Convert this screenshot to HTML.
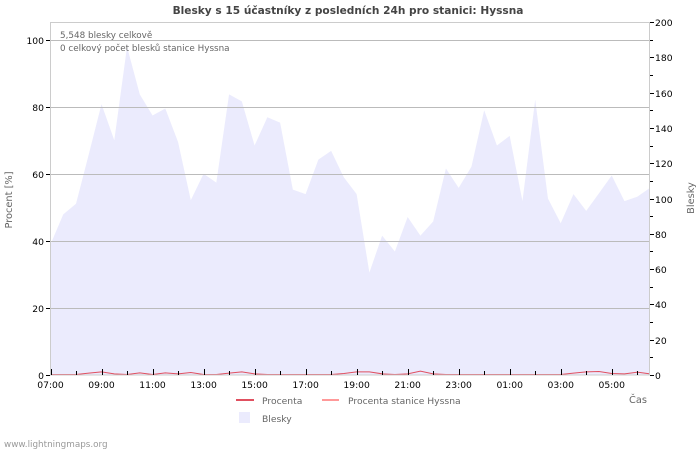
<!DOCTYPE html>
<html><head><meta charset="utf-8"><style>
body{margin:0;background:#fff;}
svg{display:block;font-family:"DejaVu Sans","Liberation Sans",sans-serif;}
</style></head><body>
<svg id="chart" width="700" height="450">
<text x="348" y="14" text-anchor="middle" font-size="10.6" font-weight="bold" fill="#444">Blesky s 15 účastníky z posledních 24h pro stanici: Hyssna</text>
<g id="grid"></g>
<g id="plot"></g>
<rect x="50.5" y="22.5" width="599" height="352.5" fill="none" stroke="#ccc"/>
<g id="axes" font-size="9.2" fill="#000"></g>
<text x="60" y="38" font-size="8.8" fill="#666">5,548 blesky celkově</text>
<text x="60" y="51" font-size="8.8" fill="#666">0 celkový počet blesků stanice Hyssna</text>
<text transform="translate(12,200) rotate(-90)" text-anchor="middle" font-size="9.8" fill="#666">Procent   [%]</text>
<text transform="translate(694,198) rotate(-90)" text-anchor="middle" font-size="9.8" fill="#666">Blesky</text>
<text x="629" y="403" font-size="9.8" fill="#666">Čas</text>
<g><line x1="236" y1="400" x2="254" y2="400" stroke="#e05060" stroke-width="2"/><text x="262" y="404" font-size="9.2" fill="#666">Procenta</text></g>
<g><line x1="322" y1="400" x2="339" y2="400" stroke="#ff9999" stroke-width="2"/><text x="348" y="404" font-size="9.2" fill="#666">Procenta stanice Hyssna</text></g>
<g><rect x="239" y="412" width="11" height="11" fill="#ebebfd"/><text x="262" y="422" font-size="9.2" fill="#666">Blesky</text></g>
<text x="4" y="447" font-size="8.8" fill="#999">www.lightningmaps.org</text>
</svg>
<script>
const blesky=[74,91,97,125,153.5,133,186,159,147,151,132,99,114,109,159,155,130,146,143,105,102.5,122,127,112,102.5,58,79,70,89.5,79,87,117,106,118,150,130,135.5,98.5,156,100,86,102.5,93,103,113,98.5,101,106];
const procenta=[0,0,0,0.4,0.8,0.2,0,0.5,0,0.5,0.2,0.6,0,0,0.4,0.8,0.2,0,0,0,0,0,0,0.3,0.8,0.8,0.2,0,0.2,1,0.2,0,0,0,0,0,0,0,0,0,0,0.4,0.8,0.9,0.3,0.2,0.7,0.2];
const xLabels=["07:00","09:00","11:00","13:00","15:00","17:00","19:00","21:00","23:00","01:00","03:00","05:00"];
const leftTicks=[0,20,40,60,80,100];
const rightTicks=[0,20,40,60,80,100,120,140,160,180,200];
const X0=50.5,X1=650,Y0=375,YT=22;
const xs=i=>X0+i*(X1-X0)/47;
const xh=h=>X0+h*(X1-X0)/23.5;
const yL=v=>Y0-v*(Y0-YT)/105.4;
const yR=v=>Y0-v*(Y0-YT)/200;
const NS="http://www.w3.org/2000/svg";
function mk(t,a,p){const e=document.createElementNS(NS,t);for(const k in a)e.setAttribute(k,a[k]);p.appendChild(e);return e;}
const plot=document.getElementById('plot'),grid=document.getElementById('grid'),axes=document.getElementById('axes');
let d=`M${xs(0)},${Y0}`;blesky.forEach((v,i)=>d+=`L${xs(i)},${yR(v)}`);d+=`L${xs(47)},${Y0}Z`;
const area=mk('path',{d:d,fill:'#ebebfd'},plot);


leftTicks.forEach(v=>{const y=Math.round(yL(v))+0.5;
 if(v>0){const g=mk('line',{x1:X0,x2:X1,y1:y,y2:y,stroke:'#bbb'},plot);}
 mk('line',{x1:46,x2:50,y1:y,y2:y,stroke:'#000'},axes);
 const t=mk('text',{x:44,y:y+3.5,'text-anchor':'end'},axes);t.textContent=v;
 });
rightTicks.forEach(v=>{const y=Math.round(yR(v))+0.5;
 mk('line',{x1:650,x2:654,y1:y,y2:y,stroke:'#000'},axes);
 const t=mk('text',{x:655,y:y+3.5},axes);t.textContent=v;
 
 if(v<200){const y2=Math.round(yR(v+10))+0.5;mk('line',{x1:650,x2:653,y1:y2,y2:y2,stroke:'#000'},axes);}});
for(let h=0;h<=23;h++){const x=Math.round(xh(h))+0.5;mk('line',{x1:x,x2:x,y1:h%2?371:369,y2:375,stroke:'#000'},axes);}
xLabels.forEach((l,i)=>{const t=mk('text',{x:xh(i*2),y:388,'text-anchor':'middle'},axes);t.textContent=l;
 });
let p='';procenta.forEach((v,i)=>p+=(i?'L':'M')+xs(i)+','+(yL(v)-0.5));
const ln=mk('path',{d:p,fill:'none',stroke:'#e05060','stroke-width':1},plot);


</script>
</body></html>
